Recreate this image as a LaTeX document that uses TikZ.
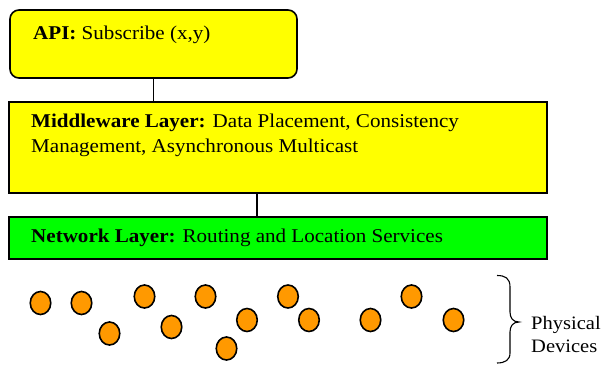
\documentclass[tikz,border=0pt]{standalone}
\usepackage{fontspec}
\setmainfont{Liberation Serif}[FakeStretch=1.08]
\usetikzlibrary{shapes.geometric}
\begin{document}
\begin{tikzpicture}[x=1pt,y=-1pt,
  layerbox/.style={draw=black, line width=1.6pt, inner sep=0pt, outer sep=0pt},
  label/.style={anchor=base west, inner sep=0pt, font=\fontsize{19.5}{25}\selectfont, align=left},
  device/.style={ellipse, draw=black, line width=1.6pt, fill=devorange,
                 minimum width=20.5pt, minimum height=23pt, inner sep=0pt},
  link/.style={draw=black, line width=1.6pt}]
\definecolor{boxyellow}{HTML}{FFFF00}
\definecolor{boxgreen}{HTML}{00FF00}
\definecolor{devorange}{HTML}{FF9900}
\useasboundingbox (0,0) rectangle (601,364);

% layer boxes
\node[layerbox, fill=boxyellow, rounded corners=9pt,
      minimum width=287pt, minimum height=68pt] (api) at (153.5,44) {};
\node[layerbox, fill=boxyellow,
      minimum width=538pt, minimum height=91pt] (mid) at (278,147.5) {};
\node[layerbox, fill=boxgreen,
      minimum width=538pt, minimum height=42.5pt] (net) at (278,238) {};

% labels (a two-line label is placed by the baseline of its last line)
\node[label] (apitext) at (33,39) {\textbf{API:} Subscribe (x,y)};
\node[label] (midtext) at (31,152.5) {\textbf{Middleware Layer:} Data Placement, Consistency\\Management, Asynchronous Multicast};
\node[label] (nettext) at (31,242.5) {\textbf{Network Layer:} Routing and Location Services};

% connectors between layers
\coordinate (lowlink) at (257,0);
\draw[link] (api.south) -- (mid.north -| api.south);
\draw[link] (mid.south -| lowlink) -- (net.north -| lowlink);

% physical devices
\foreach \i/\px/\py in {1/40.5/303, 2/81.5/303, 3/109.5/333.5, 4/144.5/296.5,
    5/171.5/327, 6/205.5/296.5, 7/226.5/348.5, 8/247/320, 9/288/296.5,
    10/309/320, 11/370.5/320, 12/411.5/296.5, 13/453.5/320}
  \node[device] (d\i) at (\px,\py) {};

% brace and its label
\coordinate (tip) at (519,322);
\draw[line width=1.1pt] (497,275.5) .. controls (505,275.5) and (510,278) .. (510,287)
  -- (510,312) .. controls (510,318) and (513,322) .. (tip)
  .. controls (513,322) and (510,326) .. (510,332)
  -- (510,353) .. controls (510,360) and (505,363) .. (497,363);
\node[label, font=\fontsize{19}{22.5}\selectfont] (phys) at (531,352) {Physical\\Devices};
\end{tikzpicture}
\end{document}
